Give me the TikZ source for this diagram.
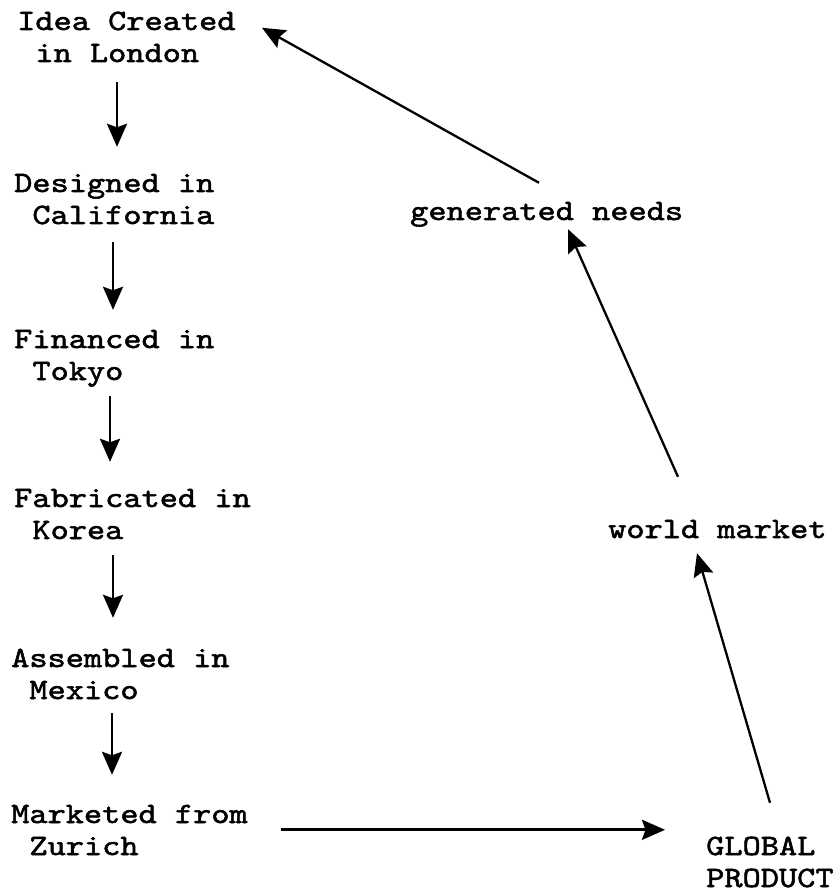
\documentclass[tikz,border=0pt]{standalone}
\usepackage{fontspec}
\usetikzlibrary{arrows.meta}
% Typewriter face, widened to a Courier-like pitch
\newfontfamily\labelfont{lmmono10-regular}[Extension=.otf, FakeStretch=1.175, FakeBold=1.8]
% Two stacked lines; the block's baseline is that of its first line
\newcommand{\twoline}[2]{\vtop{\hbox{\strut #1}\hbox{\strut #2}}}
\newcommand{\oneline}[1]{\hbox{\strut #1}}
\begin{document}
\begin{tikzpicture}[x=1pt, y=-1pt,
  label/.style={inner sep=0pt, anchor=base west,
    font=\labelfont\fontsize{29.5}{32}\selectfont},
  arr/.style={line width=2.7pt, -{Stealth[length=23pt, width=20pt, inset=3.5pt]}},
  slant/.style={arr, line width=2.3pt}]
\useasboundingbox (0,0) rectangle (835,893);

% the chain of places
\node[label] (idea)    at (17,30)  {\twoline{Idea Created}{\ in London}};
\node[label] (design)  at (14,192) {\twoline{Designed in}{\ California}};
\node[label] (finance) at (14,348) {\twoline{Financed in}{\ Tokyo}};
\node[label] (fab)     at (14,507) {\twoline{Fabricated in}{\ Korea}};
\node[label] (assem)   at (11,667) {\twoline{Assembled in}{\ Mexico}};
\node[label] (mkt)     at (11,823) {\twoline{Marketed from}{\ Zurich}};

% the loop on the right
\node[label] (gp) at (706,855) {\twoline{GLOBAL}{PRODUCT}};
\node[label] (wm) at (608,538) {\oneline{world market}};
\node[label] (gn) at (410,220) {\oneline{generated needs}};

% columns of the downward arrows
\coordinate (c1) at (117,0);
\coordinate (c2) at (113,0);
\coordinate (c3) at (110,0);
\coordinate (c4) at (113,0);
\coordinate (c5) at (112,0);

\draw[arr, shorten <=10.4pt, shorten >=22.6pt] (idea.south -| c1) -- (design.north -| c1);
\draw[arr, shorten <=8.4pt,  shorten >=15.6pt] (design.south -| c2) -- (finance.north -| c2);
\draw[arr, shorten <=6.4pt,  shorten >=22.6pt] (finance.south -| c3) -- (fab.north -| c3);
\draw[arr, shorten <=6.4pt,  shorten >=26.6pt] (fab.south -| c4) -- (assem.north -| c4);
\draw[arr, shorten <=4.4pt,  shorten >=25.6pt] (assem.south -| c5) -- (mkt.north -| c5);

% across to the product, then round the loop back to the start
\draw[arr] ([xshift=270pt, yshift=-29.4pt]mkt.north west) -- ([xshift=-41pt, yshift=2.6pt]gp.north west);
\draw[slant] ([xshift=64pt, yshift=29.6pt]gp.north west) -- ([xshift=89pt, yshift=-5.4pt]wm.south west);
\draw[slant] ([xshift=70pt, yshift=38.6pt]wm.north west) -- ([xshift=158pt, yshift=0.6pt]gn.south west);
\draw[slant] ([xshift=129pt, yshift=14.6pt]gn.north west) -- ([xshift=245pt, yshift=-20.4pt]idea.north west);
\end{tikzpicture}
\end{document}
